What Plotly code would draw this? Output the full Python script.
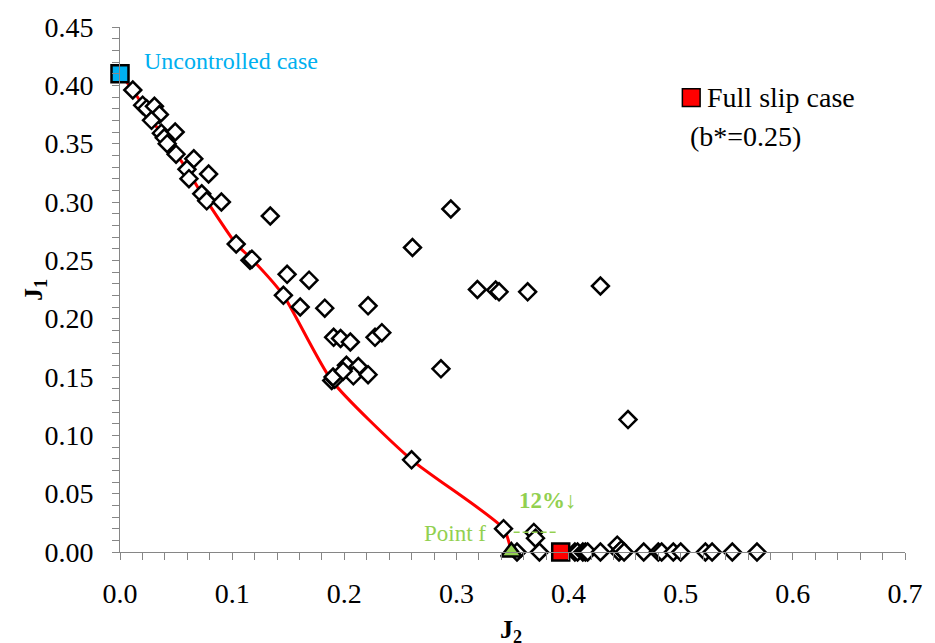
import plotly.graph_objects as go

# Candidate designs evaluated: J2 (x) vs J1 (y)
cand_j2 = [0.0114, 0.0202, 0.0237, 0.0307, 0.0351, 0.0281, 0.0369, 0.0492, 0.0395, 0.0421,
           0.050, 0.0658, 0.0597, 0.0615, 0.079, 0.0729, 0.0773, 0.0904, 0.134, 0.1036,
           0.1159, 0.1176, 0.149, 0.1686, 0.1457, 0.1607, 0.1826, 0.2212, 0.295, 0.2608,
           0.3187, 0.335, 0.338, 0.3635, 0.4284, 0.1905, 0.1967, 0.2054, 0.2274, 0.2335,
           0.1888, 0.1914, 0.1900, 0.2019, 0.2125, 0.2081, 0.2212, 0.199, 0.2862, 0.453,
           0.260, 0.342, 0.369, 0.3705,
           0.354, 0.374, 0.4056, 0.408, 0.4127, 0.415, 0.417, 0.4284, 0.4434, 0.445, 0.447,
           0.4495, 0.467, 0.480, 0.483, 0.4934, 0.500, 0.522, 0.528, 0.546, 0.568]
cand_j1 = [0.396, 0.383, 0.380, 0.382, 0.375, 0.370, 0.359, 0.360, 0.355, 0.350,
           0.341, 0.337, 0.328, 0.320, 0.324, 0.307, 0.301, 0.300, 0.288, 0.264,
           0.250, 0.251, 0.238, 0.233, 0.220, 0.210, 0.209, 0.211, 0.294, 0.261,
           0.225, 0.2245, 0.223, 0.223, 0.228, 0.184, 0.183, 0.180, 0.184, 0.188,
           0.147, 0.148, 0.150, 0.160, 0.159, 0.151, 0.152, 0.155, 0.157, 0.1135,
           0.079, 0.020, 0.0168, 0.0118,
           0.0, 0.0, 0.0, 0.0, 0.0, 0.0, 0.0, 0.0, 0.0059, 0.0, 0.002,
           0.0, 0.0, 0.0, 0.0, 0.0, 0.0, 0.0, 0.0, 0.0, 0.0]

# Pareto front (smoothed curve)
front_j2 = [0.0, 0.0114, 0.0202, 0.0281, 0.0369, 0.0421, 0.050, 0.0597, 0.0729, 0.0773,
            0.1036, 0.1176, 0.1457, 0.1888, 0.260, 0.342, 0.349]
front_j1 = [0.410, 0.396, 0.383, 0.370, 0.359, 0.350, 0.341, 0.328, 0.307, 0.301,
            0.264, 0.251, 0.220, 0.147, 0.079, 0.020, 0.0]

# Reference cases
uncontrolled = (0.0, 0.410)
full_slip = (0.393, 0.0)
point_f = (0.349, 0.0)

# 12% reduction guide level
guide_j2 = [0.351, 0.389]
guide_j1 = [0.017, 0.017]

SERIF = "Liberation Serif, Times New Roman, Times, serif"
GREEN = "#92D050"

fig = go.Figure()

fig.add_trace(go.Scatter(
    x=front_j2, y=front_j1, mode="lines",
    line=dict(color="#FF0000", width=3, shape="spline", smoothing=0.6),
    cliponaxis=False, showlegend=False, hoverinfo="skip"))

fig.add_trace(go.Scatter(
    x=cand_j2, y=cand_j1, mode="markers",
    marker=dict(symbol="diamond", size=13, color="white",
                line=dict(color="black", width=2.5)),
    cliponaxis=False, showlegend=False))

fig.add_trace(go.Scatter(
    x=guide_j2, y=guide_j1, mode="lines",
    line=dict(color=GREEN, width=1.5, dash="6px,3px"),
    cliponaxis=False, showlegend=False, hoverinfo="skip"))

fig.add_trace(go.Scatter(
    x=[uncontrolled[0]], y=[uncontrolled[1]], mode="markers",
    marker=dict(symbol="square", size=17, color="#00B0F0",
                line=dict(color="black", width=2.5)),
    cliponaxis=False, showlegend=False))

fig.add_trace(go.Scatter(
    x=[full_slip[0]], y=[full_slip[1]], mode="markers",
    marker=dict(symbol="square", size=17, color="#FF0000",
                line=dict(color="black", width=2.5)),
    cliponaxis=False, showlegend=False))

fig.add_trace(go.Scatter(
    x=[point_f[0]], y=[point_f[1]], mode="markers",
    marker=dict(symbol="triangle-up", size=18, color=GREEN,
                line=dict(color="black", width=2.5)),
    cliponaxis=False, showlegend=False))

axis_common = dict(
    showgrid=False, zeroline=False, showline=True, linecolor="#868686", linewidth=1,
    ticks="outside", ticklen=7, tickcolor="#868686", tickwidth=1,
    tickfont=dict(family=SERIF, size=28, color="black"),
)

fig.update_xaxes(range=[0, 0.7], dtick=0.1, tick0=0, tickformat=".1f",
                 minor=dict(dtick=0.02, ticks="outside", ticklen=7, tickcolor="#868686"),
                 ticklabelstandoff=9, **axis_common)
fig.update_yaxes(range=[0, 0.45], dtick=0.05, tick0=0, tickformat=".2f",
                 minor=dict(dtick=0.01, ticks="outside", ticklen=7, tickcolor="#868686"),
                 ticklabelstandoff=13, **axis_common)

annotations = [
    dict(text="<b>J<sub>2</sub></b>", xref="paper", yref="paper", x=0.4975, y=-0.15,
         xanchor="center", yanchor="middle", showarrow=False,
         font=dict(family=SERIF, size=26, color="black")),
    dict(text="<b>J<sub>1</sub></b>", xref="paper", yref="paper", x=-0.109, y=0.5,
         xanchor="center", yanchor="middle", textangle=-90, showarrow=False,
         font=dict(family=SERIF, size=26, color="black")),
    dict(text="Uncontrolled case", xref="paper", yref="paper", x=0.0276, y=0.9346,
         xanchor="left", yanchor="middle", showarrow=False,
         font=dict(family=SERIF, size=24, color="#00B0F0")),
    dict(text="Full slip case", xref="paper", yref="paper", x=0.7453, y=0.8654,
         xanchor="left", yanchor="middle", showarrow=False,
         font=dict(family=SERIF, size=28, color="black")),
    dict(text="(b*=0.25)", xref="paper", yref="paper", x=0.724, y=0.7907,
         xanchor="left", yanchor="middle", showarrow=False,
         font=dict(family=SERIF, size=28, color="black")),
    dict(text="<b>12%↓</b>", xref="paper", yref="paper", x=0.5056, y=0.0972,
         xanchor="left", yanchor="middle", showarrow=False,
         font=dict(family=SERIF, size=23, color=GREEN)),
    dict(text="Point f", xref="paper", yref="paper", x=0.385, y=0.0355,
         xanchor="left", yanchor="middle", showarrow=False,
         font=dict(family=SERIF, size=23, color=GREEN)),
]

# Legend key for the full slip case
shapes = [dict(type="rect", xref="paper", yref="paper",
               x0=0.7164, x1=0.739, y0=0.8486, y1=0.8822,
               fillcolor="#FF0000", line=dict(color="black", width=1.5))]

fig.update_layout(
    width=935, height=643,
    margin=dict(l=120, r=18, t=17, b=91),
    paper_bgcolor="white", plot_bgcolor="white",
    font=dict(family=SERIF),
    annotations=annotations, shapes=shapes,
    showlegend=False,
)

fig.write_html("out.html")
